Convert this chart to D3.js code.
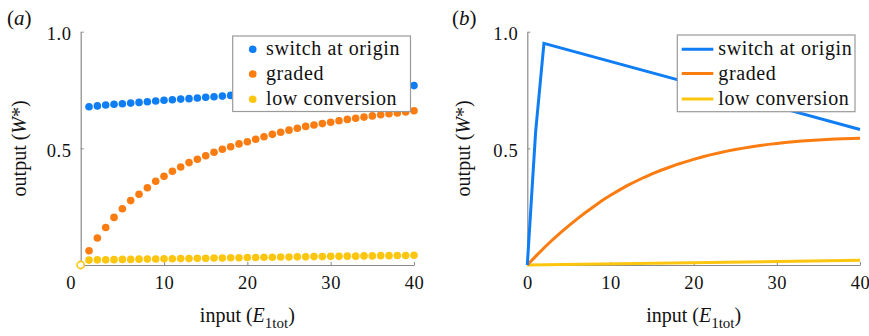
<!DOCTYPE html>
<html>
<head>
<meta charset="utf-8">
<script src="https://cdn.jsdelivr.net/npm/d3@7"></script>
<style>
  html, body { margin: 0; padding: 0; background: #fff; }
  svg { display: block; }
  text { font-family: "Liberation Serif", "Times New Roman", serif; fill: #111; }
</style>
</head>
<body>
<svg id="chart" width="869" height="336"></svg>
<script>
// ---- data ----
const seriesNames = ["switch at origin", "graded", "low conversion"];
const seriesColors = ["#0f7df3", "#fb7c10", "#fcc60e"];
const xTicks = [0, 10, 20, 30, 40];
const yTicks = [0.5, 1.0];

// panel (a): steady-state output at integer inputs 1..40
const inputA = [1,2,3,4,5,6,7,8,9,10,11,12,13,14,15,16,17,18,19,20,
                21,22,23,24,25,26,27,28,29,30,31,32,33,34,35,36,37,38,39,40];
const switchA = [0.678,0.682,0.686,0.689,0.691,0.694,0.697,0.700,0.703,0.706,
                 0.708,0.711,0.713,0.716,0.719,0.721,0.724,0.727,0.729,0.731,
                 0.733,0.735,0.737,0.739,0.741,0.743,0.745,0.747,0.749,0.751,
                 0.753,0.755,0.756,0.758,0.760,0.762,0.763,0.765,0.767,0.769];
const gradedA = [0.061,0.116,0.161,0.204,0.241,0.276,0.303,0.331,0.359,0.380,
                 0.402,0.420,0.439,0.453,0.468,0.483,0.496,0.507,0.519,0.528,
                 0.539,0.550,0.560,0.569,0.578,0.586,0.594,0.600,0.606,0.612,
                 0.618,0.624,0.629,0.634,0.639,0.644,0.648,0.652,0.656,0.661];
const lowA = [0.021,0.022,0.022,0.023,0.024,0.024,0.025,0.026,0.026,0.027,
              0.027,0.028,0.028,0.029,0.029,0.030,0.030,0.031,0.031,0.032,
              0.032,0.033,0.033,0.034,0.034,0.035,0.035,0.036,0.036,0.037,
              0.037,0.038,0.038,0.039,0.039,0.040,0.040,0.041,0.041,0.042];
const originA = [[0, 0]]; // open marker at the origin

// panel (b): continuous responses
const switchBx = [0, 1, 2, 40];
const switchBy = [0, 0.571, 0.950, 0.581];
const gradedBx = [0,1,2,3,4,5,6,7,8,9,10,11,12,13,14,15,16,17,18,19,20,
                  21,22,23,24,25,26,27,28,29,30,31,32,33,34,35,36,37,38,39,40];
const gradedBy = [0,0.037,0.073,0.107,0.139,0.169,0.198,0.225,0.251,0.276,0.299,
                  0.320,0.340,0.358,0.375,0.391,0.405,0.418,0.431,0.442,0.453,
                  0.463,0.472,0.480,0.488,0.495,0.501,0.507,0.512,0.517,0.521,
                  0.525,0.528,0.531,0.534,0.536,0.538,0.540,0.541,0.542,0.543];
const lowBx = [0, 40];
const lowBy = [0, 0.020];

// ---- layout ----
const svg = d3.select("#chart");
const axisColor = "#8a8a8a";
const yTop = 31.7, yBottom = 265;

function makePanel(opts) {
  const g = svg.append("g");
  const x = d3.scaleLinear().domain([0, 40]).range([opts.x0, opts.x1]);
  const y = d3.scaleLinear().domain([0, 1]).range([yBottom, yTop]);

  const xAxis = g.append("g")
    .attr("transform", `translate(0,${yBottom})`)
    .call(d3.axisBottom(x).tickValues(xTicks).tickFormat(d3.format("d"))
      .tickSizeInner(-3).tickSizeOuter(0).tickPadding(11));
  const yAxis = g.append("g")
    .attr("transform", `translate(${opts.x0},0)`)
    .call(d3.axisLeft(y).tickValues(yTicks).tickFormat(d3.format(".1f"))
      .tickSizeInner(-3).tickSizeOuter(0).tickPadding(9));

  [xAxis, yAxis].forEach(a => {
    a.select(".domain").attr("stroke", axisColor).attr("stroke-width", 1.2);
    a.selectAll(".tick line").attr("stroke", axisColor).attr("stroke-width", 1);
    a.selectAll(".tick text")
      .style("font-family", '"Liberation Serif", serif')
      .style("font-size", "18.5px").style("letter-spacing", "0.6px")
      .attr("fill", "#111");
  });
  yAxis.selectAll(".tick text").attr("dy", "0.42em");
  if (opts.zeroShift) {
    xAxis.selectAll(".tick text").filter(d => d === 0).attr("dx", opts.zeroShift);
  }

  // axis titles
  const xt = g.append("text")
    .attr("x", (opts.x0 + opts.x1) / 2).attr("y", 321.5)
    .attr("text-anchor", "middle").style("font-size", "20px");
  xt.append("tspan").text("input (");
  xt.append("tspan").style("font-style", "italic").text("E");
  xt.append("tspan").attr("dy", 6).style("font-size", "15px").text("1tot");
  xt.append("tspan").attr("dy", -6).text(")");

  const yt = g.append("text")
    .attr("transform", `translate(${opts.yTitleX},${(yTop + yBottom) / 2}) rotate(-90)`)
    .attr("text-anchor", "middle").style("font-size", "20px");
  yt.append("tspan").text("output (");
  yt.append("tspan").style("font-style", "italic").text("W");
  yt.append("tspan").text("*)");

  // panel letter
  const pl = g.append("text").attr("x", opts.labelX).attr("y", 25).style("font-size", "21px");
  pl.append("tspan").text("(");
  pl.append("tspan").style("font-style", "italic").text(opts.letter);
  pl.append("tspan").text(")");

  return { g, x, y };
}

// ---- panel (a): markers ----
const pa = makePanel({ x0: 80.7, x1: 414, yTitleX: 26, labelX: 7, letter: "a", zeroShift: -10 });
const dotsA = [switchA, gradedA, lowA];
const rDot = 3.8;
dotsA.forEach((vals, i) => {
  pa.g.append("g").selectAll("circle")
    .data(vals.map((v, k) => [inputA[k], v]))
    .join("circle")
    .attr("cx", d => pa.x(d[0])).attr("cy", d => pa.y(d[1]))
    .attr("r", rDot).attr("fill", seriesColors[i]);
});
pa.g.append("g").selectAll("circle").data(originA).join("circle")
  .attr("cx", d => pa.x(d[0])).attr("cy", d => pa.y(d[1]))
  .attr("r", 3.6).attr("fill", "#fff")
  .attr("stroke", seriesColors[2]).attr("stroke-width", 1.6);

// ---- panel (b): lines ----
const pb = makePanel({ x0: 527.3, x1: 860, yTitleX: 470, labelX: 452, letter: "b" });
const line = d3.line().x(d => pb.x(d[0])).y(d => pb.y(d[1]));
const linesB = [
  switchBx.map((v, k) => [v, switchBy[k]]),
  gradedBx.map((v, k) => [v, gradedBy[k]]),
  lowBx.map((v, k) => [v, lowBy[k]])
];
// draw low conversion first so the others sit on top
[2, 1, 0].forEach(i => {
  pb.g.append("path").datum(linesB[i])
    .attr("d", line).attr("fill", "none")
    .attr("stroke", seriesColors[i]).attr("stroke-width", 3)
    .attr("stroke-linejoin", "miter");
});

// ---- legends ----
function legend(box, kind) {
  const g = svg.append("g");
  g.append("rect")
    .attr("x", box.x).attr("y", box.y).attr("width", box.w).attr("height", box.h)
    .attr("fill", "#fff").attr("stroke", "#9a9a9a").attr("stroke-width", 1.2);
  seriesNames.forEach((name, i) => {
    const cy = box.rows[i];
    if (kind === "dot") {
      g.append("circle").attr("cx", box.markX).attr("cy", cy).attr("r", rDot)
        .attr("fill", seriesColors[i]);
    } else {
      g.append("line").attr("x1", box.markX).attr("x2", box.markX2)
        .attr("y1", cy).attr("y2", cy)
        .attr("stroke", seriesColors[i]).attr("stroke-width", 3);
    }
    g.append("text").attr("x", box.textX).attr("y", cy).attr("dy", "0.3em")
      .style("font-size", "20px").style("letter-spacing", "0.6px").text(name);
  });
}
legend({ x: 232.7, y: 36, w: 177.8, h: 75.5, rows: [49.3, 74, 99.3],
         markX: 252.7, textX: 266 }, "dot");
legend({ x: 677.3, y: 35, w: 177.7, h: 76.7, rows: [49.3, 73.5, 99],
         markX: 681.7, markX2: 713.3, textX: 718.3 }, "line");
</script>
</body>
</html>
